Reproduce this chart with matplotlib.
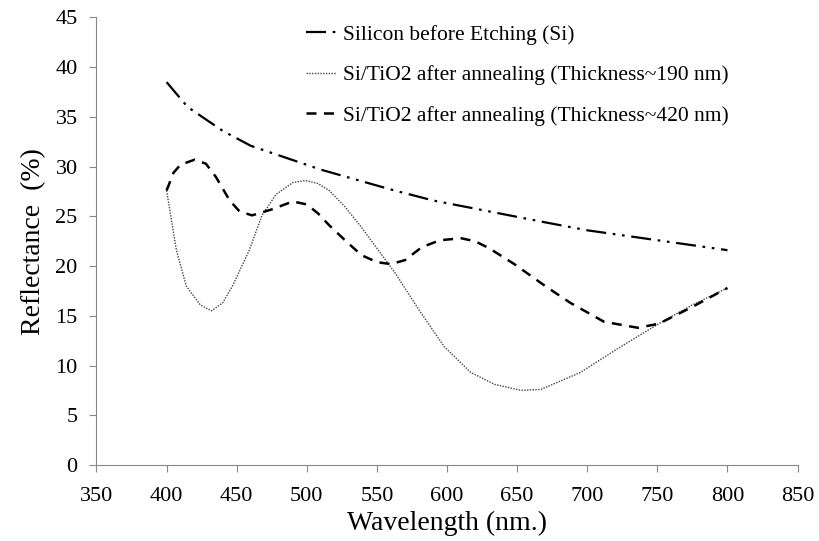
import matplotlib.pyplot as plt

plt.rcParams['font.family'] = ['Liberation Serif', 'DejaVu Serif']

# Silicon before etching
wl_si = [400, 415, 440, 460, 485, 510, 530, 560, 590, 630, 670, 700, 750, 800]
r_si = [38.5, 36.0, 33.6, 32.1, 30.9, 29.7, 28.9, 27.7, 26.6, 25.5, 24.4, 23.6, 22.6, 21.6]

# Si/TiO2 ~190 nm
wl_190 = [400, 407, 414, 424, 432, 440, 447, 459, 468, 478, 490, 499, 508, 516, 527, 539,
          563, 580, 598, 617, 634, 653, 667, 695, 724, 751, 775, 800]
r_190 = [27.6, 21.6, 18.0, 16.1, 15.5, 16.3, 18.0, 21.6, 25.1, 27.2, 28.4, 28.6, 28.3, 27.6, 26.0, 23.9,
         19.3, 15.6, 11.9, 9.3, 8.1, 7.5, 7.6, 9.3, 11.9, 14.2, 16.1, 17.8]

# Si/TiO2 ~420 nm
wl_420 = [400, 405, 410, 420, 428, 435, 445, 452, 461, 475, 490, 500, 508, 516, 528, 539, 550,
          560, 570, 582, 595, 610, 620, 630, 648, 670, 688, 712, 736, 751, 775, 800]
r_420 = [27.6, 29.4, 30.2, 30.7, 30.3, 29.0, 26.6, 25.5, 25.1, 25.7, 26.5, 26.2, 25.3, 24.1, 22.5, 21.1, 20.4,
         20.2, 20.6, 21.9, 22.6, 22.8, 22.5, 21.8, 20.2, 18.0, 16.3, 14.4, 13.8, 14.2, 15.9, 17.8]

fig = plt.figure(figsize=(8.19, 5.41), dpi=100)
ax = fig.add_axes([0.1178, 0.1405, 0.856, 0.8272])

ax.plot(wl_si, r_si, color='black', linewidth=1.6,
        linestyle=(0, (9, 3, 1.2, 3, 1.2, 3)), label='Silicon before Etching (Si)')
ax.plot(wl_190, r_190, color='#444444', linewidth=1.0,
        linestyle=(0, (1, 1)), label='Si/TiO2 after annealing (Thickness~190 nm)')
ax.plot(wl_420, r_420, color='black', linewidth=1.8,
        linestyle=(0, (4, 3)), label='Si/TiO2 after annealing (Thickness~420 nm)')

ax.set_xlim(350, 850)
ax.set_ylim(0, 45)
ax.set_xticks(range(350, 851, 50))
ax.set_yticks(range(0, 46, 5))
for s in ['top', 'right']:
    ax.spines[s].set_visible(False)
for s in ['left', 'bottom']:
    ax.spines[s].set_color('#888888')
ax.tick_params(direction='out', length=5, color='#888888', labelsize=16)
ax.tick_params(axis='x', pad=11)
ax.tick_params(axis='y', pad=8.5)

ax.set_xlabel('Wavelength (nm.)', fontsize=20, labelpad=3)
ax.set_ylabel('Reflectance  (%)', fontsize=20, labelpad=7)

fig.legend(loc='upper left', bbox_to_anchor=(0.35, 0.99), frameon=False,
           fontsize=15.5, handlelength=1.4, handletextpad=0.3, labelspacing=0.95)

plt.savefig('out.png', dpi=100)
